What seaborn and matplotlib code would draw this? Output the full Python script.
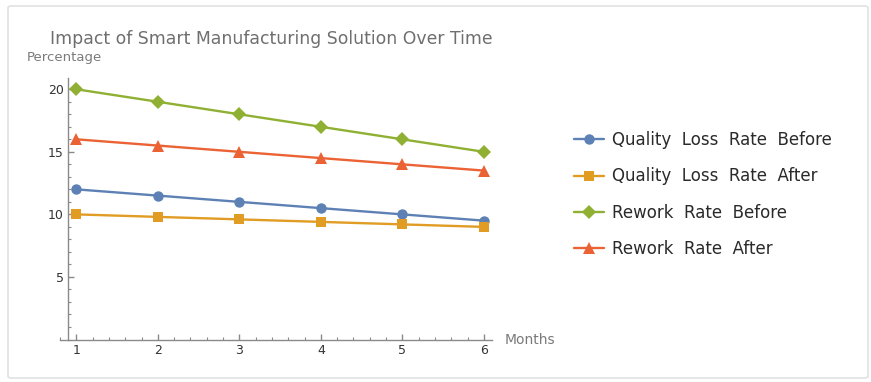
import matplotlib
matplotlib.use("Agg")
import matplotlib.pyplot as plt
from matplotlib.lines import Line2D
from matplotlib.patches import FancyBboxPatch
from matplotlib.ticker import MultipleLocator
import pandas as pd
import seaborn as sns

months = [1, 2, 3, 4, 5, 6]
quality_loss_before = [12.0, 11.5, 11.0, 10.5, 10.0, 9.5]
quality_loss_after = [10.0, 9.8, 9.6, 9.4, 9.2, 9.0]
rework_before = [20.0, 19.0, 18.0, 17.0, 16.0, 15.0]
rework_after = [16.0, 15.5, 15.0, 14.5, 14.0, 13.5]

series_names = ["Quality Loss Rate Before", "Quality Loss Rate After",
                "Rework Rate Before", "Rework Rate After"]
series_values = [quality_loss_before, quality_loss_after, rework_before, rework_after]
colors = ["#5E81B5", "#E19C24", "#8FB032", "#EB6235"]
markers = ["o", "s", "D", "^"]
marker_sizes = [7.5, 7.5, 7.5, 8.5]

df = pd.DataFrame({
    "Month": months * len(series_names),
    "Value": sum(series_values, []),
    "Series": [n for n in series_names for _ in months],
})

sns.set_theme(style="white")
plt.rcParams["font.family"] = ["DejaVu Sans"]

fig = plt.figure(figsize=(8.71, 3.82), dpi=100)
fig.patch.set_facecolor("white")

# light rounded frame around the whole figure
frame = FancyBboxPatch((8 / 871, 4 / 382), 860 / 871, 372 / 382,
                       boxstyle="round,pad=0,rounding_size=0.004",
                       transform=fig.transFigure, facecolor="none",
                       edgecolor="#e2e2e2", linewidth=1.2)
fig.patches.append(frame)

ax = fig.add_axes([60 / 871, (382 - 339.5) / 382, 432 / 871, 261.5 / 382])
ax.set_facecolor("none")

for name, color, mk, ms in zip(series_names, colors, markers, marker_sizes):
    sub = df[df["Series"] == name]
    sns.lineplot(data=sub, x="Month", y="Value", ax=ax, color=color,
                 marker=mk, markersize=ms, markeredgewidth=0, linewidth=1.7,
                 label=name, legend=False)

ax.set_xlim(0.8, 6.1)
ax.set_ylim(0, 20.9)

axis_color = "#8a8a8a"
for side in ["top", "right"]:
    ax.spines[side].set_visible(False)
ax.spines["left"].set_position(("data", 0.9))
for side in ["left", "bottom"]:
    ax.spines[side].set_color(axis_color)
    ax.spines[side].set_linewidth(1.0)

ax.xaxis.set_major_locator(MultipleLocator(1))
ax.xaxis.set_minor_locator(MultipleLocator(0.2))
ax.yaxis.set_major_locator(MultipleLocator(5))
ax.yaxis.set_minor_locator(MultipleLocator(1))
ax.set_xticks([1, 2, 3, 4, 5, 6])
ax.set_yticks([5, 10, 15, 20])
ax.tick_params(axis="both", which="both", bottom=True, left=True,
               top=False, right=False)
ax.tick_params(axis="both", which="major", direction="in", length=4.5, width=1,
               color=axis_color, labelsize=9, labelcolor="#333333", pad=3)
ax.tick_params(axis="both", which="minor", direction="in", length=2.5, width=0.8,
               color=axis_color)
ax.set_xlabel("")
ax.set_ylabel("")

fig.text(505 / 871, 1 - 340 / 382, "Months", fontsize=10, color="#7a7a7a",
         ha="left", va="center")
fig.text(27 / 871, 1 - 58 / 382, "Percentage", fontsize=9.5, color="#7a7a7a",
         ha="left", va="center")
fig.text(50 / 871, 1 - 39 / 382, "Impact of Smart Manufacturing Solution Over Time",
         fontsize=12.4, color="#6f6f6f", ha="left", va="center")

handles = [Line2D([0], [0], color=c, marker=m, markersize=s, markeredgewidth=0,
                  linewidth=1.7) for c, m, s in zip(colors, markers, marker_sizes)]
legend_labels = ["  ".join(n.split()) for n in series_names]
leg = fig.legend(handles, legend_labels, loc="upper left",
                 bbox_to_anchor=(559 / 871, 1 - 116 / 382), frameon=False,
                 fontsize=12, handlelength=1.8, handletextpad=0.5,
                 labelspacing=1.1)
for t in leg.get_texts():
    t.set_color("#2a2a2a")

fig.savefig("out.png", dpi=100)
